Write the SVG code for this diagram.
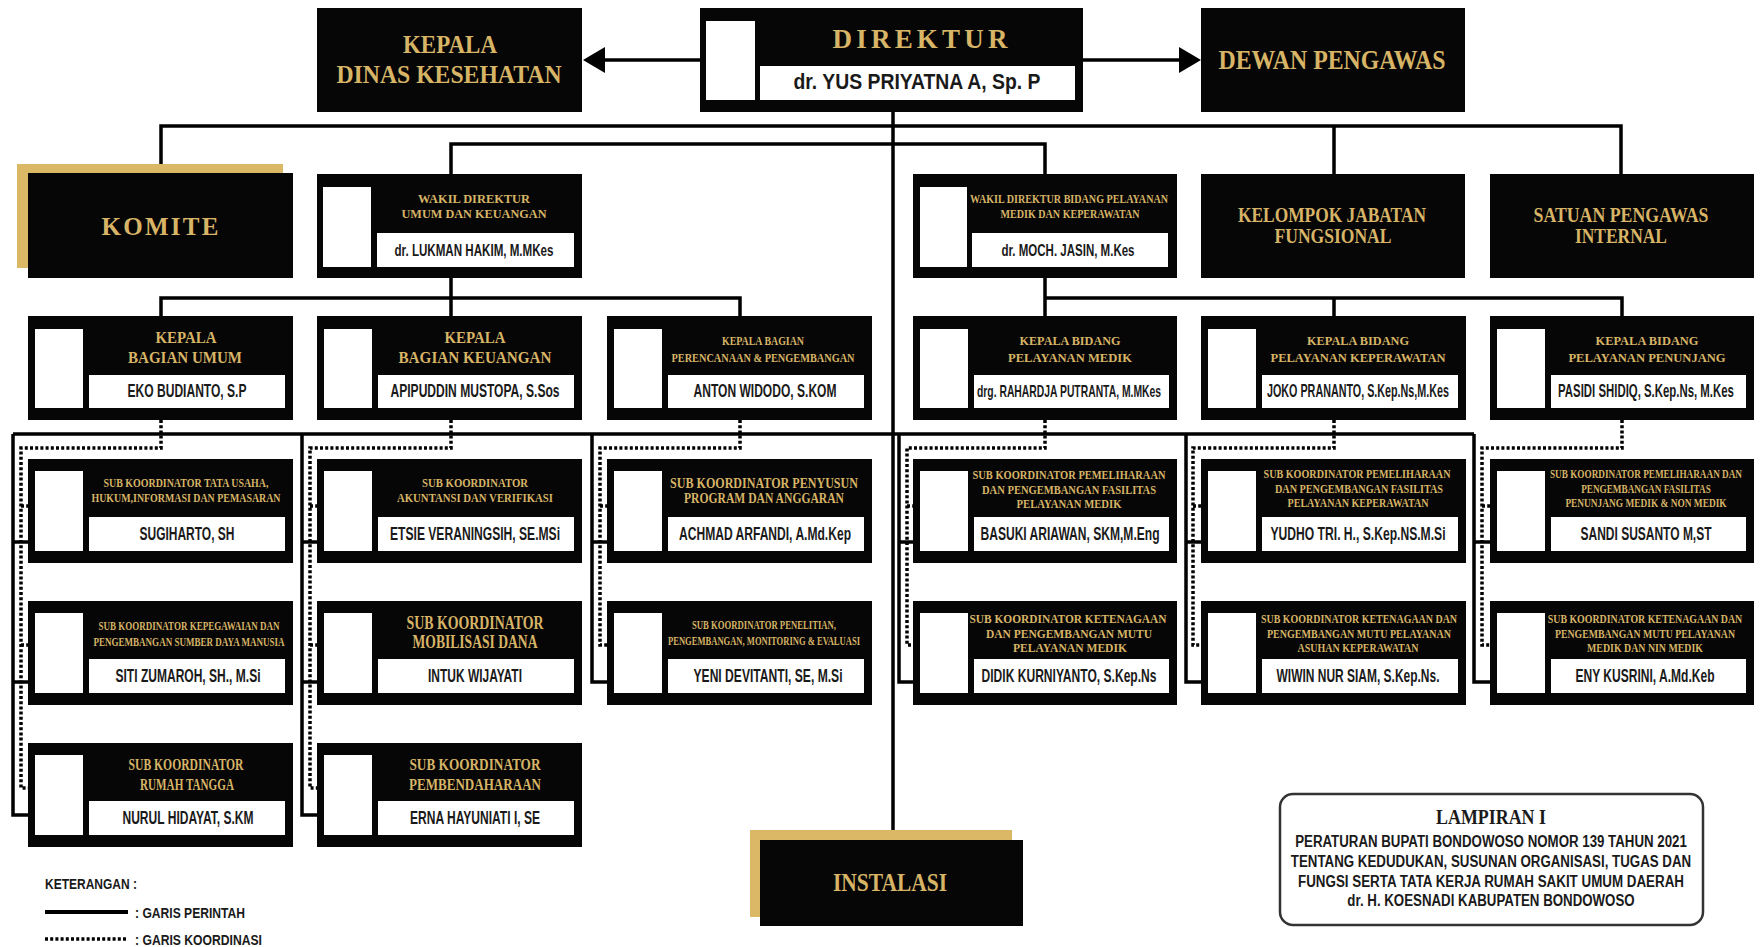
<svg xmlns="http://www.w3.org/2000/svg" width="1762" height="947" viewBox="0 0 1762 947">
<defs>
<style>
.bx{fill:#060606}
.wh{fill:#ffffff}
.gd{fill:#dbb866}
.g{fill:#d7b466;font-family:"Liberation Serif","DejaVu Serif",serif;font-weight:bold;text-anchor:middle}
.n{fill:#1a1a1a;font-family:"Liberation Sans Narrow","Liberation Sans",Arial,sans-serif;font-weight:bold;text-anchor:middle}
.s{fill:none;stroke:#000;stroke-width:3.5}
.d{fill:none;stroke:#000;stroke-width:3.5;stroke-dasharray:3 2.2}
</style>
<marker id="arr" viewBox="0 0 22 26" refX="15" refY="13" markerWidth="22" markerHeight="26" markerUnits="userSpaceOnUse" orient="auto">
<path d="M0,0 L22,13 L0,26 Z" fill="#000"/>
</marker>
</defs>
<rect width="1762" height="947" fill="#fff"/>

<g id="connectors">
<path class="s" d="M700,60 H590" marker-end="url(#arr)"/>
<path class="s" d="M1083,60 H1194" marker-end="url(#arr)"/>
<path class="s" d="M893,112 V840"/>
<path class="s" d="M161,173 V126 H1621 V174 M1334,126 V174"/>
<path class="s" d="M451,174 V144 H1045 V174"/>
<path class="s" d="M451,278 V317 M161,317 V298 H740 V317"/>
<path class="s" d="M1045,278 V317 M1045,298 H1622 V317 M1334,298 V317"/>
<path class="s" d="M13,434 H1474"/>
<path class="s" d="M13,434 V815 H28 M13,542 H28 M13,682 H28"/>
<path class="s" d="M302,434 V815 H317 M302,542 H317 M302,682 H317"/>
<path class="s" d="M592,434 V682 H607 M592,542 H607"/>
<path class="s" d="M899,434 V682 H913 M899,542 H913"/>
<path class="s" d="M1186,434 V682 H1201 M1186,542 H1201"/>
<path class="s" d="M1474,434 V682 H1490 M1474,542 H1490"/>
<path class="d" d="M161,420 V448 H21 V788 H28 M21,506 H28 M21,645 H28"/>
<path class="d" d="M451,420 V448 H310 V788 H317 M310,506 H317 M310,645 H317"/>
<path class="d" d="M740,420 V448 H600 V645 H607 M600,506 H607"/>
<path class="d" d="M1045,420 V448 H907 V645 H913 M907,506 H913"/>
<path class="d" d="M1334,420 V448 H1193 V645 H1201 M1193,506 H1201"/>
<path class="d" d="M1622,420 V448 H1482 V645 H1490 M1482,506 H1490"/>
</g>

<g id="kepala-dinas">
<rect class="bx" x="317" y="8" width="265" height="104"/>
<text class="g" x="450" y="53" font-size="26" textLength="94" lengthAdjust="spacingAndGlyphs">KEPALA</text>
<text class="g" x="449" y="83" font-size="26" textLength="225" lengthAdjust="spacingAndGlyphs">DINAS KESEHATAN</text>
</g>

<g id="direktur">
<rect class="bx" x="700" y="8" width="383" height="104"/>
<rect class="wh" x="706" y="21" width="49" height="79"/>
<rect class="wh" x="760" y="66" width="315" height="34"/>
<text class="g" x="920" y="48" font-size="27" textLength="175" lengthAdjust="spacing">DIREKTUR</text>
<text class="n" x="917" y="89" font-size="22" textLength="247" lengthAdjust="spacingAndGlyphs">dr. YUS PRIYATNA A, Sp. P</text>
</g>

<g id="dewan-pengawas">
<rect class="bx" x="1201" y="8" width="264" height="104"/>
<text class="g" x="1332" y="69" font-size="27" textLength="227" lengthAdjust="spacingAndGlyphs">DEWAN PENGAWAS</text>
</g>

<g id="komite">
<rect class="gd" x="17" y="164" width="266" height="104"/>
<rect class="bx" x="28" y="173" width="265" height="105"/>
<text class="g" x="160" y="235" font-size="25" textLength="117" lengthAdjust="spacing">KOMITE</text>
</g>

<g id="wakil-umum">
<rect class="bx" x="317" y="174" width="265" height="104"/>
<rect class="wh" x="323" y="187" width="48" height="80"/>
<rect class="wh" x="377" y="233" width="197" height="34"/>
<text class="g" x="474" y="203" font-size="13" textLength="112" lengthAdjust="spacingAndGlyphs">WAKIL DIREKTUR</text>
<text class="g" x="474" y="218" font-size="13" textLength="145" lengthAdjust="spacingAndGlyphs">UMUM DAN KEUANGAN</text>
<text class="n" x="474" y="256" font-size="17" textLength="159" lengthAdjust="spacingAndGlyphs">dr. LUKMAN HAKIM, M.MKes</text>
</g>

<g id="wakil-pelayanan">
<rect class="bx" x="913" y="174" width="264" height="104"/>
<rect class="wh" x="920" y="187" width="47" height="80"/>
<rect class="wh" x="972" y="233" width="196" height="34"/>
<text class="g" x="1069" y="203" font-size="12" textLength="198" lengthAdjust="spacingAndGlyphs">WAKIL DIREKTUR BIDANG PELAYANAN</text>
<text class="g" x="1070" y="218" font-size="12" textLength="139" lengthAdjust="spacingAndGlyphs">MEDIK DAN KEPERAWATAN</text>
<text class="n" x="1068" y="256" font-size="17" textLength="133" lengthAdjust="spacingAndGlyphs">dr. MOCH. JASIN, M.Kes</text>
</g>

<g id="kelompok-jabatan-fungsional">
<rect class="bx" x="1201" y="174" width="264" height="104"/>
<text class="g" x="1332" y="222" font-size="21" textLength="188" lengthAdjust="spacingAndGlyphs">KELOMPOK JABATAN</text>
<text class="g" x="1333" y="243" font-size="21" textLength="117" lengthAdjust="spacingAndGlyphs">FUNGSIONAL</text>
</g>

<g id="satuan-pengawas-internal">
<rect class="bx" x="1490" y="174" width="264" height="104"/>
<text class="g" x="1621" y="222" font-size="21" textLength="175" lengthAdjust="spacingAndGlyphs">SATUAN PENGAWAS</text>
<text class="g" x="1621" y="243" font-size="21" textLength="92" lengthAdjust="spacingAndGlyphs">INTERNAL</text>
</g>

<g id="kabag-umum">
<rect class="bx" x="28" y="316" width="265" height="104"/>
<rect class="wh" x="35" y="329" width="48" height="79"/>
<rect class="wh" x="89" y="375" width="196" height="33"/>
<text class="g" x="186" y="343" font-size="17" textLength="61" lengthAdjust="spacingAndGlyphs">KEPALA</text>
<text class="g" x="185" y="363" font-size="17" textLength="114" lengthAdjust="spacingAndGlyphs">BAGIAN UMUM</text>
<text class="n" x="187" y="397" font-size="18" textLength="119" lengthAdjust="spacingAndGlyphs">EKO BUDIANTO, S.P</text>
</g>

<g id="kabag-keuangan">
<rect class="bx" x="317" y="316" width="265" height="104"/>
<rect class="wh" x="324" y="329" width="48" height="79"/>
<rect class="wh" x="378" y="375" width="196" height="33"/>
<text class="g" x="475" y="343" font-size="17" textLength="61" lengthAdjust="spacingAndGlyphs">KEPALA</text>
<text class="g" x="475" y="363" font-size="17" textLength="153" lengthAdjust="spacingAndGlyphs">BAGIAN KEUANGAN</text>
<text class="n" x="475" y="397" font-size="18" textLength="169" lengthAdjust="spacingAndGlyphs">APIPUDDIN MUSTOPA, S.Sos</text>
</g>

<g id="kabag-perencanaan">
<rect class="bx" x="607" y="316" width="265" height="104"/>
<rect class="wh" x="614" y="329" width="48" height="79"/>
<rect class="wh" x="668" y="375" width="196" height="33"/>
<text class="g" x="763" y="345" font-size="12" textLength="82" lengthAdjust="spacingAndGlyphs">KEPALA BAGIAN</text>
<text class="g" x="763" y="362" font-size="12" textLength="183" lengthAdjust="spacingAndGlyphs">PERENCANAAN &amp; PENGEMBANGAN</text>
<text class="n" x="765" y="397" font-size="18" textLength="143" lengthAdjust="spacingAndGlyphs">ANTON WIDODO, S.KOM</text>
</g>

<g id="kabid-pelayanan-medik">
<rect class="bx" x="913" y="316" width="264" height="104"/>
<rect class="wh" x="920" y="329" width="48" height="79"/>
<rect class="wh" x="974" y="375" width="195" height="33"/>
<text class="g" x="1070" y="345" font-size="13" textLength="101" lengthAdjust="spacingAndGlyphs">KEPALA BIDANG</text>
<text class="g" x="1070" y="362" font-size="13" textLength="124" lengthAdjust="spacingAndGlyphs">PELAYANAN MEDIK</text>
<text class="n" x="1069" y="397" font-size="17" textLength="184" lengthAdjust="spacingAndGlyphs">drg. RAHARDJA PUTRANTA, M.MKes</text>
</g>

<g id="kabid-pelayanan-keperawatan">
<rect class="bx" x="1201" y="316" width="265" height="104"/>
<rect class="wh" x="1208" y="329" width="48" height="79"/>
<rect class="wh" x="1262" y="375" width="196" height="33"/>
<text class="g" x="1358" y="345" font-size="13" textLength="102" lengthAdjust="spacingAndGlyphs">KEPALA BIDANG</text>
<text class="g" x="1358" y="362" font-size="13" textLength="175" lengthAdjust="spacingAndGlyphs">PELAYANAN KEPERAWATAN</text>
<text class="n" x="1358" y="397" font-size="18" textLength="182" lengthAdjust="spacingAndGlyphs">JOKO PRANANTO, S.Kep.Ns,M.Kes</text>
</g>

<g id="kabid-pelayanan-penunjang">
<rect class="bx" x="1490" y="316" width="264" height="104"/>
<rect class="wh" x="1497" y="329" width="48" height="79"/>
<rect class="wh" x="1551" y="375" width="195" height="33"/>
<text class="g" x="1647" y="345" font-size="13" textLength="103" lengthAdjust="spacingAndGlyphs">KEPALA BIDANG</text>
<text class="g" transform="translate(1647,362) scale(0.85,1)" x="0" y="0" font-size="13" textLength="185" lengthAdjust="spacingAndGlyphs">PELAYANAN PENUNJANG</text>
<text class="n" transform="translate(1646,397) scale(0.63,1)" x="0" y="0" font-size="18" textLength="279" lengthAdjust="spacingAndGlyphs">PASIDI SHIDIQ, S.Kep.Ns, M.Kes</text>
</g>

<g id="sub-tata-usaha">
<rect class="bx" x="28" y="459" width="265" height="104"/>
<rect class="wh" x="35" y="471" width="48" height="80"/>
<rect class="wh" x="89" y="517" width="196" height="34"/>
<text class="g" x="186" y="487" font-size="13" textLength="165" lengthAdjust="spacingAndGlyphs">SUB KOORDINATOR TATA USAHA,</text>
<text class="g" x="186" y="502" font-size="13" textLength="189" lengthAdjust="spacingAndGlyphs">HUKUM,INFORMASI DAN PEMASARAN</text>
<text class="n" x="187" y="540" font-size="18" textLength="95" lengthAdjust="spacingAndGlyphs">SUGIHARTO, SH</text>
</g>

<g id="sub-akuntansi">
<rect class="bx" x="317" y="459" width="265" height="104"/>
<rect class="wh" x="324" y="471" width="48" height="80"/>
<rect class="wh" x="378" y="517" width="196" height="34"/>
<text class="g" x="475" y="487" font-size="13" textLength="106" lengthAdjust="spacingAndGlyphs">SUB KOORDINATOR</text>
<text class="g" x="475" y="502" font-size="13" textLength="156" lengthAdjust="spacingAndGlyphs">AKUNTANSI DAN VERIFIKASI</text>
<text class="n" x="475" y="540" font-size="18" textLength="170" lengthAdjust="spacingAndGlyphs">ETSIE VERANINGSIH, SE.MSi</text>
</g>

<g id="sub-penyusun-program">
<rect class="bx" x="607" y="459" width="265" height="104"/>
<rect class="wh" x="614" y="471" width="48" height="80"/>
<rect class="wh" x="668" y="517" width="196" height="34"/>
<text class="g" x="764" y="488" font-size="15" textLength="188" lengthAdjust="spacingAndGlyphs">SUB KOORDINATOR PENYUSUN</text>
<text class="g" x="764" y="503" font-size="15" textLength="160" lengthAdjust="spacingAndGlyphs">PROGRAM DAN ANGGARAN</text>
<text class="n" x="765" y="540" font-size="18" textLength="172" lengthAdjust="spacingAndGlyphs">ACHMAD ARFANDI, A.Md.Kep</text>
</g>

<g id="sub-pemeliharaan-medik">
<rect class="bx" x="913" y="459" width="264" height="104"/>
<rect class="wh" x="920" y="471" width="48" height="80"/>
<rect class="wh" x="974" y="517" width="195" height="34"/>
<text class="g" x="1069" y="479" font-size="12" textLength="193" lengthAdjust="spacingAndGlyphs">SUB KOORDINATOR PEMELIHARAAN</text>
<text class="g" x="1069" y="494" font-size="12" textLength="174" lengthAdjust="spacingAndGlyphs">DAN PENGEMBANGAN FASILITAS</text>
<text class="g" x="1069" y="508" font-size="12" textLength="105" lengthAdjust="spacingAndGlyphs">PELAYANAN MEDIK</text>
<text class="n" x="1070" y="540" font-size="18" textLength="179" lengthAdjust="spacingAndGlyphs">BASUKI ARIAWAN, SKM,M.Eng</text>
</g>

<g id="sub-pemeliharaan-keperawatan">
<rect class="bx" x="1201" y="459" width="265" height="104"/>
<rect class="wh" x="1208" y="471" width="48" height="80"/>
<rect class="wh" x="1262" y="517" width="196" height="34"/>
<text class="g" x="1357" y="478" font-size="12" textLength="187" lengthAdjust="spacingAndGlyphs">SUB KOORDINATOR PEMELIHARAAN</text>
<text class="g" x="1359" y="493" font-size="12" textLength="168" lengthAdjust="spacingAndGlyphs">DAN PENGEMBANGAN FASILITAS</text>
<text class="g" x="1358" y="507" font-size="12" textLength="141" lengthAdjust="spacingAndGlyphs">PELAYANAN KEPERAWATAN</text>
<text class="n" x="1358" y="540" font-size="18" textLength="175" lengthAdjust="spacingAndGlyphs">YUDHO TRI. H., S.Kep.NS.M.Si</text>
</g>

<g id="sub-pemeliharaan-penunjang">
<rect class="bx" x="1490" y="459" width="264" height="104"/>
<rect class="wh" x="1497" y="471" width="48" height="80"/>
<rect class="wh" x="1551" y="517" width="195" height="34"/>
<text class="g" transform="translate(1646,478) scale(0.75,1)" x="0" y="0" font-size="12" textLength="256" lengthAdjust="spacingAndGlyphs">SUB KOORDINATOR PEMELIHARAAN DAN</text>
<text class="g" transform="translate(1646,493) scale(0.8,1)" x="0" y="0" font-size="12" textLength="162" lengthAdjust="spacingAndGlyphs">PENGEMBANGAN FASILITAS</text>
<text class="g" transform="translate(1646,507) scale(0.75,1)" x="0" y="0" font-size="12" textLength="215" lengthAdjust="spacingAndGlyphs">PENUNJANG MEDIK &amp; NON MEDIK</text>
<text class="n" transform="translate(1646,540) scale(0.63,1)" x="0" y="0" font-size="18" textLength="208" lengthAdjust="spacingAndGlyphs">SANDI SUSANTO M,ST</text>
</g>

<g id="sub-kepegawaian">
<rect class="bx" x="28" y="601" width="265" height="104"/>
<rect class="wh" x="35" y="613" width="48" height="80"/>
<rect class="wh" x="89" y="659" width="196" height="34"/>
<text class="g" x="189" y="630" font-size="12" textLength="181" lengthAdjust="spacingAndGlyphs">SUB KOORDINATOR KEPEGAWAIAN DAN</text>
<text class="g" x="189" y="646" font-size="12" textLength="191" lengthAdjust="spacingAndGlyphs">PENGEMBANGAN SUMBER DAYA MANUSIA</text>
<text class="n" x="188" y="682" font-size="18" textLength="145" lengthAdjust="spacingAndGlyphs">SITI ZUMAROH, SH., M.Si</text>
</g>

<g id="sub-mobilisasi-dana">
<rect class="bx" x="317" y="601" width="265" height="104"/>
<rect class="wh" x="324" y="613" width="48" height="80"/>
<rect class="wh" x="378" y="659" width="196" height="34"/>
<text class="g" x="475" y="629" font-size="18" textLength="137" lengthAdjust="spacingAndGlyphs">SUB KOORDINATOR</text>
<text class="g" x="475" y="648" font-size="18" textLength="125" lengthAdjust="spacingAndGlyphs">MOBILISASI DANA</text>
<text class="n" x="475" y="682" font-size="18" textLength="94" lengthAdjust="spacingAndGlyphs">INTUK WIJAYATI</text>
</g>

<g id="sub-penelitian">
<rect class="bx" x="607" y="601" width="265" height="104"/>
<rect class="wh" x="614" y="613" width="48" height="80"/>
<rect class="wh" x="668" y="659" width="196" height="34"/>
<text class="g" x="764" y="629" font-size="12" textLength="144" lengthAdjust="spacingAndGlyphs">SUB KOORDINATOR PENELITIAN,</text>
<text class="g" x="764" y="645" font-size="12" textLength="192" lengthAdjust="spacingAndGlyphs">PENGEMBANGAN, MONITORING &amp; EVALUASI</text>
<text class="n" x="768" y="682" font-size="18" textLength="149" lengthAdjust="spacingAndGlyphs">YENI DEVITANTI, SE, M.Si</text>
</g>

<g id="sub-ketenagaan-medik">
<rect class="bx" x="913" y="601" width="264" height="104"/>
<rect class="wh" x="920" y="613" width="48" height="80"/>
<rect class="wh" x="974" y="659" width="195" height="34"/>
<text class="g" x="1068" y="623" font-size="12" textLength="197" lengthAdjust="spacingAndGlyphs">SUB KOORDINATOR KETENAGAAN</text>
<text class="g" x="1069" y="638" font-size="12" textLength="166" lengthAdjust="spacingAndGlyphs">DAN PENGEMBANGAN MUTU</text>
<text class="g" x="1070" y="652" font-size="12" textLength="114" lengthAdjust="spacingAndGlyphs">PELAYANAN MEDIK</text>
<text class="n" x="1069" y="682" font-size="18" textLength="175" lengthAdjust="spacingAndGlyphs">DIDIK KURNIYANTO, S.Kep.Ns</text>
</g>

<g id="sub-ketenagaan-keperawatan">
<rect class="bx" x="1201" y="601" width="265" height="104"/>
<rect class="wh" x="1208" y="613" width="48" height="80"/>
<rect class="wh" x="1262" y="659" width="196" height="34"/>
<text class="g" x="1359" y="623" font-size="12" textLength="196" lengthAdjust="spacingAndGlyphs">SUB KOORDINATOR KETENAGAAN DAN</text>
<text class="g" x="1359" y="638" font-size="12" textLength="184" lengthAdjust="spacingAndGlyphs">PENGEMBANGAN MUTU PELAYANAN</text>
<text class="g" x="1358" y="652" font-size="12" textLength="121" lengthAdjust="spacingAndGlyphs">ASUHAN KEPERAWATAN</text>
<text class="n" x="1358" y="682" font-size="18" textLength="163" lengthAdjust="spacingAndGlyphs">WIWIN NUR SIAM, S.Kep.Ns.</text>
</g>

<g id="sub-ketenagaan-penunjang">
<rect class="bx" x="1490" y="601" width="264" height="104"/>
<rect class="wh" x="1497" y="613" width="48" height="80"/>
<rect class="wh" x="1551" y="659" width="195" height="34"/>
<text class="g" transform="translate(1645,623) scale(0.8,1)" x="0" y="0" font-size="12" textLength="243" lengthAdjust="spacingAndGlyphs">SUB KOORDINATOR KETENAGAAN DAN</text>
<text class="g" transform="translate(1645,638) scale(0.8,1)" x="0" y="0" font-size="12" textLength="225" lengthAdjust="spacingAndGlyphs">PENGEMBANGAN MUTU PELAYANAN</text>
<text class="g" transform="translate(1645,652) scale(0.8,1)" x="0" y="0" font-size="12" textLength="145" lengthAdjust="spacingAndGlyphs">MEDIK DAN NIN MEDIK</text>
<text class="n" transform="translate(1645,682) scale(0.65,1)" x="0" y="0" font-size="18" textLength="214" lengthAdjust="spacingAndGlyphs">ENY KUSRINI, A.Md.Keb</text>
</g>

<g id="sub-rumah-tangga">
<rect class="bx" x="28" y="743" width="265" height="104"/>
<rect class="wh" x="35" y="755" width="48" height="80"/>
<rect class="wh" x="89" y="801" width="196" height="34"/>
<text class="g" x="186" y="770" font-size="17" textLength="115" lengthAdjust="spacingAndGlyphs">SUB KOORDINATOR</text>
<text class="g" x="187" y="790" font-size="17" textLength="94" lengthAdjust="spacingAndGlyphs">RUMAH TANGGA</text>
<text class="n" x="188" y="824" font-size="18" textLength="131" lengthAdjust="spacingAndGlyphs">NURUL HIDAYAT, S.KM</text>
</g>

<g id="sub-pembendaharaan">
<rect class="bx" x="317" y="743" width="265" height="104"/>
<rect class="wh" x="324" y="755" width="48" height="80"/>
<rect class="wh" x="378" y="801" width="196" height="34"/>
<text class="g" x="475" y="770" font-size="17" textLength="131" lengthAdjust="spacingAndGlyphs">SUB KOORDINATOR</text>
<text class="g" x="475" y="790" font-size="17" textLength="132" lengthAdjust="spacingAndGlyphs">PEMBENDAHARAAN</text>
<text class="n" x="475" y="824" font-size="18" textLength="130" lengthAdjust="spacingAndGlyphs">ERNA HAYUNIATI I, SE</text>
</g>

<g id="instalasi">
<rect class="gd" x="750" y="830" width="262" height="87"/>
<rect class="bx" x="760" y="840" width="263" height="86"/>
<text class="g" x="890" y="891" font-size="26" textLength="114" lengthAdjust="spacingAndGlyphs">INSTALASI</text>
</g>

<g id="lampiran">
<rect x="1280" y="794" width="423" height="131" rx="13" fill="#fff" stroke="#333" stroke-width="2.5"/>
<text x="1491" y="824" font-size="22" textLength="110" lengthAdjust="spacingAndGlyphs" font-family="Liberation Serif, DejaVu Serif, serif" font-weight="bold" text-anchor="middle" fill="#1a1a1a">LAMPIRAN I</text>
<text class="n" transform="translate(1491,847) scale(0.72,1)" x="0" y="0" font-size="17" textLength="544" lengthAdjust="spacingAndGlyphs">PERATURAN BUPATI BONDOWOSO NOMOR 139 TAHUN 2021</text>
<text class="n" transform="translate(1491,867) scale(0.72,1)" x="0" y="0" font-size="17" textLength="556" lengthAdjust="spacingAndGlyphs">TENTANG KEDUDUKAN, SUSUNAN ORGANISASI, TUGAS DAN</text>
<text class="n" transform="translate(1491,887) scale(0.72,1)" x="0" y="0" font-size="17" textLength="536" lengthAdjust="spacingAndGlyphs">FUNGSI SERTA TATA KERJA RUMAH SAKIT UMUM DAERAH</text>
<text class="n" transform="translate(1491,906) scale(0.72,1)" x="0" y="0" font-size="17" textLength="399" lengthAdjust="spacingAndGlyphs">dr. H. KOESNADI KABUPATEN BONDOWOSO</text>
</g>

<g id="legend">
<text class="n" x="45" y="889" font-size="15" style="text-anchor:start" textLength="92" lengthAdjust="spacingAndGlyphs">KETERANGAN :</text>
<path d="M45,912 H128" fill="none" stroke="#000" stroke-width="4"/>
<text class="n" x="135" y="918" font-size="15" style="text-anchor:start" textLength="110" lengthAdjust="spacingAndGlyphs">: GARIS PERINTAH</text>
<path d="M45,939 H128" class="d"/>
<text class="n" x="135" y="945" font-size="15" style="text-anchor:start" textLength="127" lengthAdjust="spacingAndGlyphs">: GARIS KOORDINASI</text>
</g>
</svg>
